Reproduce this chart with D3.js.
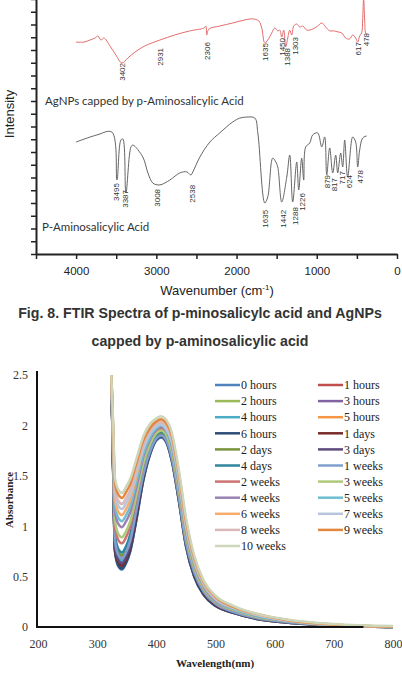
<!DOCTYPE html>
<html>
<head>
<meta charset="utf-8">
<script src="https://cdn.jsdelivr.net/npm/d3@7"></script>
<style>
  body { margin: 0; background: #fff; }
  svg { display: block; }
</style>
</head>
<body>
<svg id="chart" width="402" height="676"></svg>
<script>
// ---- FTIR spectra, [wavenumber cm-1, intensity a.u.] ----
var ftirAgNP = [
    [4002, 83.1], [3902, 83.1], [3828, 83.9], [3765, 84.7], [3728, 85.5], [3691, 83.9], [3653, 84.7],
    [3578, 81.6], [3504, 78.0], [3429, 74.9], [3354, 76.9], [3267, 79.2], [3143, 81.6], [2956, 83.9],
    [2769, 85.9], [2582, 87.5], [2408, 88.6], [2383, 89.4], [2371, 85.9], [2346, 88.2], [2209, 89.4],
    [2047, 90.6], [1897, 91.8], [1798, 92.2], [1723, 91.4], [1686, 88.6], [1648, 82.7], [1611, 83.9],
    [1561, 86.7], [1524, 88.6], [1486, 87.5], [1461, 87.8], [1437, 85.1], [1412, 87.8], [1387, 81.2],
    [1362, 84.7], [1337, 87.8], [1312, 85.9], [1287, 89.4], [1250, 90.2], [1212, 89.0], [1175, 89.4],
    [1125, 87.8], [1051, 88.2], [989, 89.4], [938, 90.6], [889, 89.0], [839, 87.5], [789, 87.5],
    [739, 87.1], [689, 86.7], [640, 84.7], [590, 84.3], [552, 85.9], [515, 84.7], [490, 83.1],
    [465, 85.5], [440, 86.7], [428, 91.8], [416, 100.4], [403, 91.8], [391, 86.7], [378, 86.3]
];
var ftirPAS = [
    [4002, 43.9], [3740, 46.7], [3553, 47.8], [3491, 29.0], [3442, 44.7], [3417, 45.1], [3379, 23.9],
    [3316, 42.0], [3292, 42.7], [3168, 38.0], [3105, 31.8], [3043, 27.8], [2956, 27.1], [2832, 29.0],
    [2707, 31.8], [2620, 32.2], [2570, 31.0], [2545, 32.2], [2458, 38.0], [2333, 43.9], [2209, 47.5],
    [2047, 51.8], [1959, 53.3], [1872, 53.7], [1772, 53.3], [1735, 47.5], [1648, 20.0], [1611, 22.4],
    [1549, 37.6], [1511, 36.1], [1486, 34.1], [1437, 20.4], [1374, 30.2], [1337, 38.8], [1300, 20.4],
    [1250, 36.1], [1225, 25.1], [1188, 37.6], [1163, 29.0], [1138, 42.0], [1088, 43.5], [1051, 46.7],
    [989, 47.5], [938, 42.0], [901, 45.9], [876, 31.0], [839, 41.6], [801, 31.8], [764, 38.8],
    [739, 31.8], [702, 39.6], [677, 34.1], [652, 44.7], [615, 30.2], [552, 45.9], [515, 43.9],
    [490, 34.1], [465, 40.8], [428, 45.5], [378, 46.3]
];
// peak labels: [text, position (cm-1), intensity at top of label]
var agnpPeakLabels = [
    ['3402', 3429, 74.9], ['2931', 2956, 80.8], ['2306', 2371, 83.1], ['1635', 1648, 82.7],
    ['1450', 1437, 84.7], ['1388', 1374, 80.8], ['1303', 1275, 85.1], ['617', 478, 83.1], ['478', 378, 86.7]
];
var pasPeakLabels = [
    ['3495', 3504, 27.8], ['3387', 3392, 25.1], ['3008', 2993, 25.5], ['2538', 2557, 27.1],
    ['1635', 1648, 17.3], ['1442', 1424, 17.3], ['1288', 1275, 18.4], ['1226', 1188, 23.9],
    ['879', 876, 31.0], ['817', 789, 29.8], ['717', 689, 32.5], ['624', 602, 31.0], ['478', 465, 32.9]
];
var ftirTicks = [4500, 4000, 3500, 3000, 2500, 2000, 1500, 1000, 500, 0];

// ---- UV-Vis absorbance vs time ----
var wavelengths = [324, 327, 330, 336, 342, 348, 356, 366, 378, 390, 400, 408, 416, 426, 438, 450, 464, 480, 500, 530, 570, 620, 700, 800];
var seriesNames = ['0 hours', '1 hours', '2 hours', '3 hours', '4 hours', '5 hours', '6 hours', '1 days',
    '2 days', '3 days', '4 days', '1 weeks', '2 weeks', '3 weeks', '4 weeks', '5 weeks', '6 weeks',
    '7 weeks', '8 weeks', '9 weeks', '10 weeks'];
var seriesColors = ['#4f81bd', '#c0504d', '#9bbb59', '#8064a2', '#4bacc6', '#f79646', '#2c4d75', '#772c2a',
    '#77933c', '#5f4a7e', '#31859c', '#7f9fcf', '#cd7371', '#afc97a', '#9983b5', '#6fbdd1', '#f9ab6b',
    '#b8c4db', '#d9b8b7', '#e3873f', '#cdd6b8'];
var absorbance = [
    [2.50, 1.55, 0.75, 0.60, 0.57, 0.62, 0.75, 1.05, 1.45, 1.72, 1.85, 1.88, 1.84, 1.65, 1.25, 0.80, 0.50, 0.32, 0.21, 0.14, 0.08, 0.045, 0.015, 0.00],
    [2.50, 1.57, 0.77, 0.62, 0.59, 0.64, 0.77, 1.07, 1.47, 1.73, 1.86, 1.89, 1.85, 1.66, 1.26, 0.81, 0.51, 0.33, 0.21, 0.14, 0.08, 0.045, 0.015, 0.00],
    [2.50, 1.59, 0.80, 0.65, 0.62, 0.67, 0.80, 1.10, 1.49, 1.75, 1.88, 1.91, 1.87, 1.68, 1.28, 0.83, 0.52, 0.33, 0.22, 0.15, 0.09, 0.05, 0.017, 0.00],
    [2.50, 1.60, 0.82, 0.67, 0.64, 0.69, 0.82, 1.12, 1.50, 1.76, 1.89, 1.92, 1.88, 1.69, 1.29, 0.84, 0.53, 0.34, 0.22, 0.15, 0.09, 0.05, 0.017, 0.00],
    [2.50, 1.62, 0.84, 0.69, 0.66, 0.71, 0.84, 1.14, 1.52, 1.77, 1.90, 1.93, 1.89, 1.70, 1.30, 0.85, 0.54, 0.34, 0.23, 0.15, 0.09, 0.05, 0.018, 0.00],
    [2.50, 1.64, 0.87, 0.72, 0.69, 0.74, 0.87, 1.17, 1.54, 1.79, 1.91, 1.94, 1.90, 1.71, 1.31, 0.86, 0.55, 0.35, 0.23, 0.16, 0.09, 0.05, 0.018, 0.00],
    [2.50, 1.56, 0.76, 0.61, 0.58, 0.63, 0.76, 1.06, 1.46, 1.73, 1.86, 1.89, 1.85, 1.66, 1.26, 0.81, 0.50, 0.32, 0.21, 0.14, 0.08, 0.045, 0.015, 0.00],
    [2.50, 1.58, 0.79, 0.64, 0.61, 0.66, 0.80, 1.11, 1.51, 1.78, 1.92, 1.95, 1.91, 1.72, 1.31, 0.85, 0.53, 0.34, 0.22, 0.15, 0.09, 0.05, 0.017, 0.00],
    [2.50, 1.65, 0.89, 0.74, 0.71, 0.76, 0.89, 1.18, 1.54, 1.78, 1.90, 1.93, 1.89, 1.71, 1.31, 0.86, 0.55, 0.35, 0.23, 0.16, 0.09, 0.05, 0.018, 0.00],
    [2.50, 1.60, 0.81, 0.66, 0.63, 0.68, 0.82, 1.13, 1.53, 1.80, 1.94, 1.97, 1.93, 1.74, 1.33, 0.87, 0.54, 0.35, 0.23, 0.15, 0.09, 0.05, 0.018, 0.00],
    [2.50, 1.67, 0.92, 0.77, 0.74, 0.79, 0.92, 1.20, 1.56, 1.79, 1.91, 1.94, 1.90, 1.72, 1.32, 0.87, 0.56, 0.36, 0.24, 0.16, 0.10, 0.055, 0.02, 0.00],
    [2.50, 1.63, 0.86, 0.71, 0.68, 0.73, 0.86, 1.15, 1.51, 1.75, 1.87, 1.90, 1.86, 1.68, 1.29, 0.84, 0.54, 0.35, 0.23, 0.15, 0.09, 0.05, 0.018, 0.00],
    [2.50, 1.72, 1.00, 0.86, 0.83, 0.88, 1.00, 1.27, 1.61, 1.83, 1.94, 1.97, 1.93, 1.76, 1.36, 0.91, 0.59, 0.38, 0.25, 0.17, 0.10, 0.06, 0.02, 0.00],
    [2.50, 1.75, 1.06, 0.92, 0.89, 0.94, 1.05, 1.30, 1.62, 1.82, 1.92, 1.95, 1.91, 1.75, 1.36, 0.91, 0.59, 0.38, 0.25, 0.17, 0.10, 0.06, 0.02, 0.00],
    [2.50, 1.81, 1.15, 1.02, 0.99, 1.04, 1.14, 1.38, 1.69, 1.87, 1.96, 1.99, 1.95, 1.80, 1.41, 0.95, 0.62, 0.40, 0.26, 0.18, 0.11, 0.06, 0.02, 0.00],
    [2.50, 1.85, 1.21, 1.08, 1.05, 1.10, 1.20, 1.43, 1.72, 1.89, 1.97, 2.00, 1.96, 1.81, 1.43, 0.97, 0.63, 0.41, 0.27, 0.18, 0.11, 0.06, 0.02, 0.00],
    [2.50, 1.89, 1.27, 1.14, 1.11, 1.16, 1.26, 1.49, 1.77, 1.93, 2.00, 2.03, 1.99, 1.85, 1.47, 1.00, 0.65, 0.42, 0.28, 0.19, 0.12, 0.065, 0.022, 0.005],
    [2.50, 1.92, 1.32, 1.20, 1.17, 1.22, 1.31, 1.52, 1.77, 1.92, 1.99, 2.01, 1.97, 1.84, 1.47, 1.01, 0.66, 0.43, 0.28, 0.19, 0.12, 0.065, 0.022, 0.005],
    [2.50, 1.95, 1.37, 1.25, 1.22, 1.27, 1.36, 1.57, 1.82, 1.96, 2.02, 2.04, 2.01, 1.88, 1.51, 1.04, 0.68, 0.44, 0.29, 0.20, 0.12, 0.07, 0.025, 0.005],
    [2.50, 1.99, 1.43, 1.31, 1.28, 1.33, 1.42, 1.62, 1.85, 1.98, 2.04, 2.06, 2.03, 1.90, 1.53, 1.06, 0.69, 0.45, 0.30, 0.20, 0.13, 0.07, 0.025, 0.005],
    [2.50, 2.02, 1.48, 1.36, 1.33, 1.38, 1.47, 1.66, 1.89, 2.02, 2.07, 2.09, 2.06, 1.93, 1.56, 1.09, 0.71, 0.46, 0.31, 0.21, 0.13, 0.075, 0.03, 0.01]
];
var uvTicksX = [200, 300, 400, 500, 600, 700, 800];
var uvTicksY = [0, 0.5, 1, 1.5, 2, 2.5];

var svg = d3.select('#chart');
var sans = '"Liberation Sans", Arial, sans-serif';
var serif = '"Liberation Serif", "Times New Roman", serif';

// ================= FTIR panel =================
var fx = d3.scaleLinear().domain([4500, 0]).range([36, 397]);
var fy = d3.scaleLinear().domain([0, 100]).range([254, -1]);

var fxAxis = svg.append('g')
    .attr('transform', 'translate(0,254)')
    .call(d3.axisBottom(fx)
        .tickValues(ftirTicks)
        .tickSize(5)
        .tickSizeOuter(0)
        .tickFormat(function(d) { return d % 1000 === 0 ? d : ''; }));
fxAxis.select('.domain').attr('stroke', '#222').attr('stroke-width', 2);
fxAxis.selectAll('.tick line').attr('stroke', '#222').attr('stroke-width', 1.5);
fxAxis.selectAll('.tick text')
    .attr('dy', '1.15em')
    .style('font-family', sans)
    .style('font-size', '11.5px')
    .attr('fill', '#222');

var fyAxis = svg.append('g')
    .attr('transform', 'translate(36,0)')
    .call(d3.axisLeft(fy)
        .tickValues(d3.range(0, 101, 5))
        .tickSize(5)
        .tickSizeOuter(0)
        .tickFormat(''));
fyAxis.select('.domain').attr('stroke', '#222').attr('stroke-width', 2);
fyAxis.selectAll('.tick line').attr('stroke', '#222').attr('stroke-width', 1.5);

var ftirLine = d3.line()
    .x(function(d) { return fx(d[0]); })
    .y(function(d) { return fy(d[1]); })
    .curve(d3.curveCatmullRom.alpha(0.5));

svg.append('path')
    .datum(ftirAgNP)
    .attr('fill', 'none')
    .attr('stroke', '#e46c6c')
    .attr('stroke-width', 1)
    .attr('d', ftirLine);

svg.append('path')
    .datum(ftirPAS)
    .attr('fill', 'none')
    .attr('stroke', '#666')
    .attr('stroke-width', 1)
    .attr('d', ftirLine);

function peakLabels(list) {
    svg.append('g').selectAll('text')
        .data(list)
        .enter()
        .append('text')
        .attr('transform', function(d) { return 'translate(' + fx(d[1]) + ',' + fy(d[2]) + ') rotate(-90)'; })
        .attr('dy', '0.35em')
        .attr('text-anchor', 'end')
        .style('font-family', sans)
        .style('font-size', '8px')
        .attr('fill', '#333')
        .text(function(d) { return d[0]; });
}
peakLabels(agnpPeakLabels);
peakLabels(pasPeakLabels);

svg.append('text')
    .attr('x', 45).attr('y', 105)
    .style('font-family', 'Lato, "Open Sans", sans-serif')
    .style('font-size', '11.5px')
    .attr('fill', '#333')
    .text('AgNPs capped by p-Aminosalicylic Acid');

svg.append('text')
    .attr('x', 42).attr('y', 231)
    .style('font-family', 'Lato, "Open Sans", sans-serif')
    .style('font-size', '11.5px')
    .attr('fill', '#333')
    .text('P-Aminosalicylic Acid');

svg.append('text')
    .attr('transform', 'translate(14,114) rotate(-90)')
    .attr('text-anchor', 'middle')
    .style('font-family', sans)
    .style('font-size', '13px')
    .attr('fill', '#222')
    .text('Intensity');

var wn = svg.append('text')
    .attr('x', 217).attr('y', 295)
    .attr('text-anchor', 'middle')
    .style('font-family', sans)
    .style('font-size', '13px')
    .attr('fill', '#222');
wn.append('tspan').text('Wavenumber (cm');
wn.append('tspan').attr('dy', -5).style('font-size', '8px').text('-1');
wn.append('tspan').attr('dy', 5).text(')');

// caption
svg.append('text')
    .attr('x', 200).attr('y', 318)
    .attr('text-anchor', 'middle')
    .style('font-family', sans)
    .style('font-size', '14.2px')
    .style('font-weight', 'bold')
    .attr('fill', '#333')
    .text('Fig. 8. FTIR Spectra of p-minosalicylc acid and AgNPs');
svg.append('text')
    .attr('x', 200).attr('y', 346)
    .attr('text-anchor', 'middle')
    .style('font-family', sans)
    .style('font-size', '14.2px')
    .style('font-weight', 'bold')
    .attr('fill', '#333')
    .text('capped by p-aminosalicylic acid');

// ================= UV-Vis panel =================
var ux = d3.scaleLinear().domain([200, 800]).range([38, 393]);
var uy = d3.scaleLinear().domain([0, 2.5]).range([627, 375]);

var uxAxis = svg.append('g')
    .attr('transform', 'translate(0,627)')
    .call(d3.axisBottom(ux).tickValues(uvTicksX).tickSize(0).tickPadding(12));
uxAxis.select('.domain').remove();
uxAxis.selectAll('text')
    .style('font-family', serif)
    .style('font-size', '12px')
    .attr('fill', '#333');

var uyAxis = svg.append('g')
    .attr('transform', 'translate(37,0)')
    .call(d3.axisLeft(uy)
        .tickValues(uvTicksY)
        .tickSize(0)
        .tickPadding(9)
        .tickFormat(function(d) { return String(d); }));
uyAxis.select('.domain').remove();
uyAxis.selectAll('text')
    .style('font-family', serif)
    .style('font-size', '12px')
    .attr('fill', '#333');

var uvLine = d3.line()
    .x(function(d) { return ux(d[0]); })
    .y(function(d) { return uy(d[1]); })
    .curve(d3.curveMonotoneX);

var uvData = absorbance.map(function(vals) {
    return vals.map(function(v, i) { return [wavelengths[i], v]; });
});

svg.append('g').selectAll('path')
    .data(uvData)
    .enter()
    .append('path')
    .attr('fill', 'none')
    .attr('stroke', function(d, i) { return seriesColors[i]; })
    .attr('stroke-width', 2.5)
    .attr('d', uvLine);

// axis lines drawn over the curves
svg.append('line')
    .attr('x1', 37).attr('x2', 37)
    .attr('y1', uy(2.54)).attr('y2', uy(0))
    .attr('stroke', '#111').attr('stroke-width', 2);
svg.append('line')
    .attr('x1', 36).attr('x2', ux(750))
    .attr('y1', uy(0)).attr('y2', uy(0))
    .attr('stroke', '#111').attr('stroke-width', 2);

svg.append('text')
    .attr('transform', 'translate(13,500) rotate(-90)')
    .attr('text-anchor', 'middle')
    .style('font-family', serif)
    .style('font-size', '11px')
    .style('font-weight', 'bold')
    .attr('fill', '#222')
    .text('Absorbance');

svg.append('text')
    .attr('x', 215).attr('y', 667)
    .attr('text-anchor', 'middle')
    .style('font-family', serif)
    .style('font-size', '11px')
    .style('font-weight', 'bold')
    .attr('fill', '#222')
    .text('Wavelength(nm)');

// legend, two columns
var legend = svg.append('g').selectAll('g')
    .data(seriesNames)
    .enter()
    .append('g')
    .attr('transform', function(d, i) {
        return 'translate(' + (i % 2 === 0 ? 215 : 318) + ',' + (385 + 16.1 * Math.floor(i / 2)) + ')';
    });
legend.append('line')
    .attr('x1', 0).attr('x2', 25)
    .attr('stroke', function(d, i) { return seriesColors[i]; })
    .attr('stroke-width', 2.5);
legend.append('text')
    .attr('x', 26)
    .attr('dy', '0.35em')
    .style('font-family', serif)
    .style('font-size', '12px')
    .attr('fill', '#222')
    .text(function(d) { return d; });
</script>
</body>
</html>
